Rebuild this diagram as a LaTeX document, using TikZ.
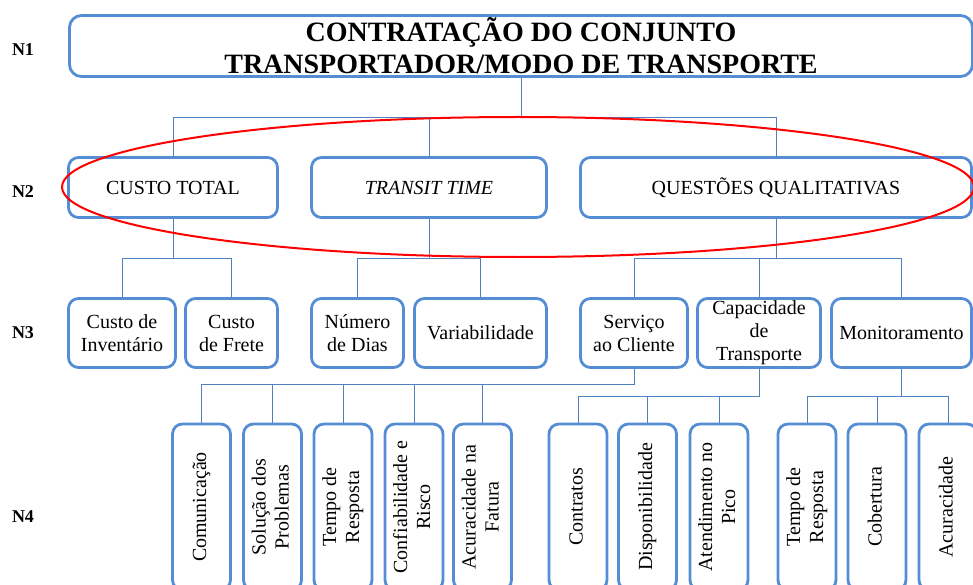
\documentclass[tikz,border=0pt]{standalone}
\usepackage{fontspec}
\setmainfont{Liberation Serif}
\definecolor{azul}{RGB}{84,141,212}
\definecolor{azullinha}{RGB}{79,129,189}
\tikzset{
  caixa/.style={draw=azul, line width=2.8pt, rounded corners=10pt, align=center,
    inner sep=0pt, font=\fontsize{20}{23}\selectfont},
  vertical/.style={caixa, minimum width=58, minimum height=166},
  conector/.style={draw=azullinha, line width=0.9pt},
  nivel/.style={font=\bfseries\fontsize{18}{20}\selectfont}
}
\newcommand{\girado}[1]{\rotatebox{90}{\begin{tabular}{@{}c@{}}#1\end{tabular}}}

\begin{document}
\begin{tikzpicture}[x=1pt, y=-1pt]

    \useasboundingbox (0,0) rectangle (973,585);
    \clip (0,0) rectangle (973,585);

    % Niveis
    \node[nivel] (n1) at (23,50) {N1};
    \node[nivel] (n2) at (23,192) {N2};
    \node[nivel] (n3) at (23,333) {N3};
    \node[nivel] (n4) at (23,517) {N4};

    % Nivel 1
    \node[caixa, rounded corners=12pt, minimum width=903, minimum height=61,
      font=\bfseries\fontsize{28}{32}\selectfont] (titulo) at (521,46)
      {CONTRATAÇÃO DO CONJUNTO\\TRANSPORTADOR/MODO DE TRANSPORTE};

    % Nivel 2
    \node[caixa, minimum width=209, minimum height=60] (custo) at (173,187.5) {CUSTO TOTAL};
    \node[caixa, minimum width=235, minimum height=60] (transit) at (429,187.5) {\itshape TRANSIT TIME};
    \node[caixa, minimum width=391, minimum height=60] (quali) at (776,187.5) {QUESTÕES QUALITATIVAS};

    % Nivel 3
    \node[caixa, minimum width=107, minimum height=69] (inv) at (122,333) {Custo de\\Inventário};
    \node[caixa, minimum width=92, minimum height=69] (frete) at (231.5,333) {Custo\\de Frete};
    \node[caixa, minimum width=92, minimum height=69] (dias) at (357.5,333) {Número\\de Dias};
    \node[caixa, minimum width=132, minimum height=69] (var) at (480.5,333) {Variabilidade};
    \node[caixa, minimum width=107, minimum height=69] (serv) at (634,333) {Serviço\\ao Cliente};
    \node[caixa, minimum width=123, minimum height=69] (cap) at (759,333) {Capacidade\\de\\Transporte};
    \node[caixa, minimum width=140, minimum height=69] (mon) at (901.5,333) {Monitoramento};

    % Nivel 4
    \node[vertical] (com) at (201.5,507) {\girado{Comunicação}};
    \node[vertical] (sol) at (272.5,507) {\girado{Solução dos\\Problemas}};
    \node[vertical] (tempo) at (343,507) {\girado{Tempo de\\Resposta}};
    \node[vertical] (conf) at (414,507) {\girado{Confiabilidade e\\Risco}};
    \node[vertical] (fat) at (482.5,507) {\girado{Acuracidade na\\Fatura}};
    \node[vertical] (contr) at (578,507) {\girado{Contratos}};
    \node[vertical] (disp) at (647.5,507) {\girado{Disponibilidade}};
    \node[vertical] (pico) at (719,507) {\girado{Atendimento no\\Pico}};
    \node[vertical] (resp) at (807,507) {\girado{Tempo de\\Resposta}};
    \node[vertical] (cob) at (877,507) {\girado{Cobertura}};
    \node[vertical] (acur) at (948,507) {\girado{Acuracidade}};

    % Barramentos
    \coordinate (b1) at (0,117);
    \coordinate (b2) at (0,258);
    \coordinate (b3) at (0,384);
    \coordinate (b4) at (0,396);

    % Ligacoes
    \foreach \f in {custo,transit,quali}
      \draw[conector] (titulo.south) -- (titulo.south |- b1) -| (\f.north);
    \foreach \p/\f in {custo/inv,custo/frete,transit/dias,transit/var,quali/serv,quali/cap,quali/mon}
      \draw[conector] (\p.south) -- (\p.south |- b2) -| (\f.north);
    \foreach \f in {com,sol,tempo,conf,fat}
      \draw[conector] (serv.south) -- (serv.south |- b3) -| (\f.north);
    \foreach \p/\f in {cap/contr,cap/disp,cap/pico,mon/resp,mon/cob,mon/acur}
      \draw[conector] (\p.south) -- (\p.south |- b4) -| (\f.north);

    % Destaque do nivel 2
    \draw[red, line width=2pt] (518,187) ellipse [x radius=456, y radius=70];

\end{tikzpicture}
\end{document}
